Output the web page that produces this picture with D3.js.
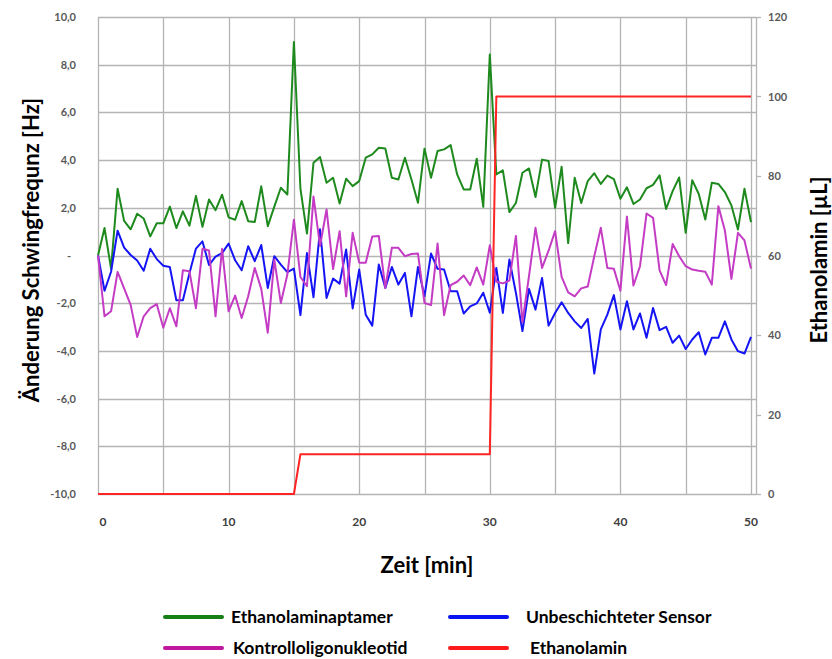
<!DOCTYPE html>
<html>
<head>
<meta charset="utf-8">
<script src="https://cdn.jsdelivr.net/npm/d3@7"></script>
<style>
    body { margin: 0; background: #ffffff; }
    svg { display: block; font-family: Lato, 'Noto Sans', sans-serif; }
</style>
</head>
<body>
<script>
'use strict';

/* globals d3 */

// Zeitpunkte [min], alle 0,5 min
var zeit = [
    0, 0.5, 1, 1.5, 2, 2.5, 3, 3.5, 4, 4.5, 5, 5.5, 6, 6.5, 7, 7.5, 8, 8.5, 9, 9.5,
    10, 10.5, 11, 11.5, 12, 12.5, 13, 13.5, 14, 14.5, 15, 15.5, 16, 16.5, 17, 17.5, 18, 18.5, 19, 19.5,
    20, 20.5, 21, 21.5, 22, 22.5, 23, 23.5, 24, 24.5, 25, 25.5, 26, 26.5, 27, 27.5, 28, 28.5, 29, 29.5,
    30, 30.5, 31, 31.5, 32, 32.5, 33, 33.5, 34, 34.5, 35, 35.5, 36, 36.5, 37, 37.5, 38, 38.5, 39, 39.5,
    40, 40.5, 41, 41.5, 42, 42.5, 43, 43.5, 44, 44.5, 45, 45.5, 46, 46.5, 47, 47.5, 48, 48.5, 49, 49.5,
    50
];

// Änderung der Schwingfrequenz [Hz]
var aptamer = [
    0, 1.15, -0.55, 2.8, 1.45, 1.1, 1.75, 1.55, 0.8, 1.35, 1.35, 2.05, 1.15, 1.85, 1.25, 2.5, 1.2, 2.35, 1.9, 2.55,
    1.6, 1.5, 2.28, 1.44, 1.4, 2.9, 1.23, 2.05, 2.84, 2.56, 8.95, 2.8, 0.92, 3.89, 4.13, 3.05, 3.26, 2.18, 3.22, 2.91,
    3.12, 4.1, 4.24, 4.52, 4.49, 3.26, 3.19, 4.1, 3.19, 2.21, 4.48, 3.26, 4.38, 4.45, 4.63, 3.4, 2.77, 2.77, 4.06, 2.04,
    8.43, 3.4, 3.57, 1.82, 2.2, 3.47, 3.65, 2.45, 4.02, 3.96, 2.0, 3.72, 0.52, 3.26, 2.2, 3.12, 3.45, 3.0, 3.35, 3.2,
    2.38, 2.86, 2.16, 2.35, 2.82, 2.96, 3.36, 1.95, 2.7, 3.27, 0.95, 3.16, 2.58, 1.51, 3.05, 3.0, 2.66, 2.1, 1.09, 2.8,
    1.4
];
var sensor = [
    0, -1.48, -0.68, 1.04, 0.33, 0.02, -0.21, -0.64, 0.28, -0.15, -0.43, -0.48, -1.88, -1.88, -0.75, 0.29, 0.59, -0.4, -0.05, 0.1,
    0.5, -0.2, -0.62, 0.39, -0.24, 0.44, -1.36, -0.03, -0.38, -0.7, -0.55, -2.5, 0.1, -1.75, 1.1, -1.78, -0.97, -1.18, 0.25, -2.22,
    -0.59, -2.48, -2.94, -0.38, -1.36, -0.48, -1.22, -0.73, -2.55, -0.48, -1.71, 0.08, -0.56, -0.59, -1.5, -1.5, -2.43, -2.13, -2.01, -1.56,
    -2.4, -0.52, -2.41, -0.17, -1.57, -3.17, -1.4, -2.27, -0.94, -2.94, -2.41, -1.96, -2.41, -2.76, -3.04, -2.66, -4.95, -3.1, -2.48, -1.66,
    -3.1, -1.92, -3.1, -2.43, -3.45, -2.2, -3.13, -2.99, -3.66, -3.36, -3.92, -3.52, -3.22, -4.15, -3.45, -3.45, -2.76, -3.52, -4.01, -4.11,
    -3.41
];
var kontroll = [
    0, -2.55, -2.34, -0.69, -1.38, -2.07, -3.42, -2.55, -2.21, -2.04, -3.03, -2.21, -2.97, -0.62, -0.66, -2.21, 0.28, 0.21, -2.55, 0.28,
    -2.34, -1.68, -2.62, -1.71, -0.52, -1.4, -3.24, -0.17, -1.99, -0.8, 1.5, -0.9, -1.29, 2.47, 0.4, 1.93, -0.57, 1.02, -1.71, 0.95,
    -0.3, -0.3, 0.8, 0.82, -1.36, 0.32, 0.32, -0.03, 0.06, 0.08, -1.99, -2.08, 0.5, -2.5, -1.24, -1.1, -0.84, -1.24, -0.5, -1.22,
    0.43, -1.1, -1.17, -1.05, 0.82, -2.8, -0.87, 1.16, -0.52, 0.2, 1.02, -0.9, -1.55, -1.71, -1.38, -1.3, -0.03, 1.16, -0.52, -0.56,
    -1.48, 1.63, -1.26, -0.45, 1.76, 1.58, -0.62, -1.24, 0.48, -0.03, -0.45, -0.59, -0.64, -0.68, -1.22, 2.07, 1.05, -0.98, 0.95, 0.63,
    -0.55
];

// Zugegebenes Ethanolamin [µL] (rechte Achse)
var ethanolamin = [
    0, 0, 0, 0, 0, 0, 0, 0, 0, 0, 0, 0, 0, 0, 0, 0, 0, 0, 0, 0,
    0, 0, 0, 0, 0, 0, 0, 0, 0, 0, 0, 10, 10, 10, 10, 10, 10, 10, 10, 10,
    10, 10, 10, 10, 10, 10, 10, 10, 10, 10, 10, 10, 10, 10, 10, 10, 10, 10, 10, 10,
    10, 100, 100, 100, 100, 100, 100, 100, 100, 100, 100, 100, 100, 100, 100, 100, 100, 100, 100, 100,
    100, 100, 100, 100, 100, 100, 100, 100, 100, 100, 100, 100, 100, 100, 100, 100, 100, 100, 100, 100,
    100
];

var leftTicks = [-10, -8, -6, -4, -2, 0, 2, 4, 6, 8, 10];
var rightTicks = [0, 20, 40, 60, 80, 100, 120];
var gridTimes = [0, 5, 10, 15, 20, 25, 30, 35, 40, 45, 50];
var timeLabels = [0, 10, 20, 30, 40, 50];

var seriesNames = ['Ethanolaminaptamer', 'Unbeschichteter Sensor', 'Kontrolloligonukleotid', 'Ethanolamin'];
var seriesColors = ['#1e8a1e', '#1414f5', '#c43cc4', '#ff2424'];
var legendColors = ['#168016', '#0a14f0', '#c0189e', '#ff1a1a'];

var schwingChart = {

    settings: {
        width: 832,
        height: 659,
        left: 98,
        right: 756,
        data_right: 751,
        top: 17,
        bottom: 494,
        grid_color: '#b4b4b4',
        tick_color: '#595959',
        line_width: 2
    },

    /**
     * Initialize
     */
    init: function () {
        var s = schwingChart.settings;

        schwingChart.svg = d3.select('body').append('svg')
            .attr('width', s.width)
            .attr('height', s.height);

        schwingChart.x = d3.scaleLinear().domain([0, 50]).range([s.left, s.data_right]);
        schwingChart.yLeft = d3.scaleLinear().domain([-10, 10]).range([s.bottom, s.top]);
        schwingChart.yRight = d3.scaleLinear().domain([0, 120]).range([s.bottom, s.top]);

        schwingChart.drawGrid();
        schwingChart.drawAxes();
        schwingChart.drawLines();
        schwingChart.drawTitles();
        schwingChart.drawLegend();
    },

    /**
     * Gitternetz
     */
    drawGrid: function () {
        var s = schwingChart.settings, svg = schwingChart.svg;
        var g = svg.append('g').attr('class', 'grid');

        g.selectAll('.grid-h').data(leftTicks).enter().append('line')
            .attr('x1', s.left).attr('x2', s.right)
            .attr('y1', function (d) { return Math.round(schwingChart.yLeft(d)) + 0.5; })
            .attr('y2', function (d) { return Math.round(schwingChart.yLeft(d)) + 0.5; })
            .attr('stroke', s.grid_color).attr('stroke-width', 1.3);

        g.selectAll('.grid-v').data(gridTimes).enter().append('line')
            .attr('x1', function (d) { return Math.round(schwingChart.x(d)) + 0.5; })
            .attr('x2', function (d) { return Math.round(schwingChart.x(d)) + 0.5; })
            .attr('y1', s.top).attr('y2', s.bottom)
            .attr('stroke', s.grid_color).attr('stroke-width', 1.3);

        // rechte Achsenlinie
        g.append('line')
            .attr('x1', s.right + 0.5).attr('x2', s.right + 0.5)
            .attr('y1', s.top).attr('y2', s.bottom)
            .attr('stroke', s.grid_color).attr('stroke-width', 1.3);
    },

    /**
     * Achsenbeschriftungen
     */
    drawAxes: function () {
        var s = schwingChart.settings, svg = schwingChart.svg;

        var fmt = function (v) {
            if (v === 0) { return '-'; }
            return (v < 0 ? '-' : '') + Math.abs(v).toFixed(1).replace('.', ',');
        };

        svg.append('g').selectAll('text').data(leftTicks).enter().append('text')
            .attr('x', function (d) { return d === 0 ? 71 : 76; })
            .attr('y', function (d) { return schwingChart.yLeft(d) + 4; })
            .attr('text-anchor', 'end')
            .attr('font-size', '11px').attr('font-weight', 'bold')
            .attr('fill', s.tick_color)
            .text(fmt);

        var right = svg.append('g');
        right.selectAll('line').data(rightTicks).enter().append('line')
            .attr('x1', s.right).attr('x2', s.right + 5)
            .attr('y1', function (d) { return Math.round(schwingChart.yRight(d)) + 0.5; })
            .attr('y2', function (d) { return Math.round(schwingChart.yRight(d)) + 0.5; })
            .attr('stroke', s.grid_color).attr('stroke-width', 1.3);
        right.selectAll('text').data(rightTicks).enter().append('text')
            .attr('x', 768)
            .attr('y', function (d) { return schwingChart.yRight(d) + 4; })
            .attr('font-size', '11px').attr('font-weight', 'bold')
            .attr('fill', s.tick_color)
            .text(function (d) { return d; });

        svg.append('g').selectAll('text').data(timeLabels).enter().append('text')
            .attr('x', function (d) { return schwingChart.x(d) + (d === 0 ? 5 : 0); })
            .attr('y', 526)
            .attr('text-anchor', 'middle')
            .attr('font-size', '12px').attr('font-weight', 'bold')
            .attr('fill', '#404040')
            .text(function (d) { return d; });
    },

    /**
     * Messkurven
     */
    drawLines: function () {
        var s = schwingChart.settings, svg = schwingChart.svg;
        var x = schwingChart.x;

        var leftLine = d3.line()
            .x(function (d, i) { return x(zeit[i]); })
            .y(function (d) { return schwingChart.yLeft(d); });
        var rightLine = d3.line()
            .x(function (d, i) { return x(zeit[i]); })
            .y(function (d) { return schwingChart.yRight(d); });

        var series = [
            { values: aptamer, color: seriesColors[0], line: leftLine },
            { values: sensor, color: seriesColors[1], line: leftLine },
            { values: kontroll, color: seriesColors[2], line: leftLine },
            { values: ethanolamin, color: seriesColors[3], line: rightLine }
        ];

        svg.append('g').selectAll('path').data(series).enter().append('path')
            .attr('d', function (d) { return d.line(d.values); })
            .attr('fill', 'none')
            .attr('stroke', function (d) { return d.color; })
            .attr('stroke-width', s.line_width)
            .attr('stroke-linejoin', 'round');
    },

    /**
     * Achsentitel
     */
    drawTitles: function () {
        var svg = schwingChart.svg;

        svg.append('text')
            .attr('transform', 'translate(39,250) rotate(-90)')
            .attr('text-anchor', 'middle')
            .attr('font-size', '22px').attr('font-weight', 'bold')
            .text('Änderung Schwingfrequnz [Hz]');

        svg.append('text')
            .attr('transform', 'translate(827,260) rotate(-90)')
            .attr('text-anchor', 'middle')
            .attr('font-size', '22px').attr('font-weight', 'bold')
            .text('Ethanolamin [µL]');

        svg.append('text')
            .attr('x', 427).attr('y', 573)
            .attr('text-anchor', 'middle')
            .attr('font-size', '22px').attr('font-weight', 'bold')
            .text('Zeit [min]');
    },

    /**
     * Legende
     */
    drawLegend: function () {
        var svg = schwingChart.svg;
        var pos = [
            { x: 165, y: 617, tx: 231 },
            { x: 450, y: 617, tx: 526 },
            { x: 165, y: 648, tx: 233 },
            { x: 450, y: 648, tx: 530 }
        ];

        var items = svg.append('g').selectAll('g').data(seriesNames).enter().append('g');
        items.append('line')
            .attr('x1', function (d, i) { return pos[i].x; })
            .attr('x2', function (d, i) { return pos[i].x + 57; })
            .attr('y1', function (d, i) { return pos[i].y; })
            .attr('y2', function (d, i) { return pos[i].y; })
            .attr('stroke', function (d, i) { return legendColors[i]; })
            .attr('stroke-width', 4)
            .attr('stroke-linecap', 'round');
        items.append('text')
            .attr('x', function (d, i) { return pos[i].tx; })
            .attr('y', function (d, i) { return pos[i].y + 6; })
            .attr('font-size', '17.5px').attr('font-weight', 'bold')
            .attr('fill', '#000')
            .text(function (d) { return d; });
    }
};

schwingChart.init();
</script>
</body>
</html>
